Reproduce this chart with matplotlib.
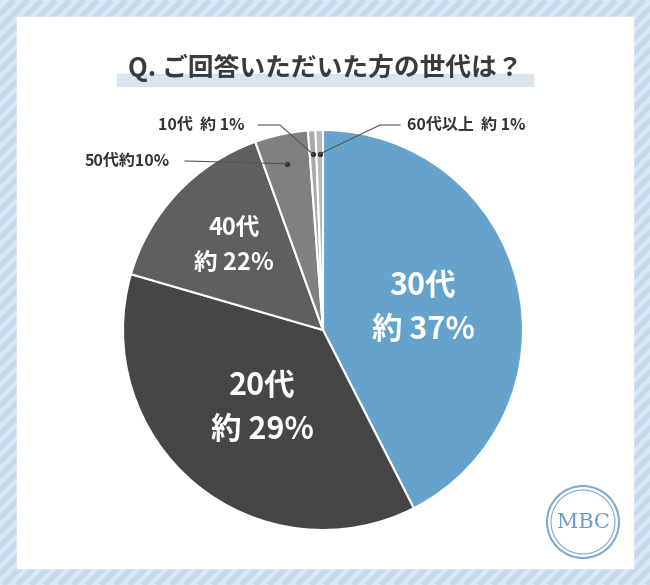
import matplotlib
matplotlib.use("Agg")
import matplotlib.pyplot as plt
from matplotlib.patches import Rectangle, Circle
import numpy as np

plt.rcParams['font.family'] = ['Noto Sans CJK JP', 'DejaVu Sans']

categories = ["30代", "20代", "40代", "50代", "10代", "60代以上"]
values = [42.5, 37.0, 15.0, 4.3, 0.6, 0.6]
labels = ["約 37%", "約 29%", "約 22%", "約10%", "約 1%", "約 1%"]
colors = ["#66a3cc", "#464646", "#5f5f5f", "#808080", "#a9a9a9", "#b8b8b8"]

W, H = 650, 585
fig = plt.figure(figsize=(6.5, 5.85), dpi=100)
bg = fig.add_axes([0, 0, 1, 1])
bg.set_xlim(0, W); bg.set_ylim(H, 0); bg.axis('off')
bg.add_patch(Rectangle((0, 0), W, H, color="#dbe8f3"))
for k in range(-H, W + H, 14):
    bg.plot([k, k + H], [H, 0], color="#c4d9ec", lw=4, solid_capstyle='butt')
bg.add_patch(Rectangle((17, 17), W - 34, H - 34, color="white", zorder=2))
bg.add_patch(Rectangle((117, 74), 416, 12, color="#d5e6f2", zorder=3))
bg.text(325, 68, "Q. ご回答いただいた方の世代は？", ha='center', va='center',
        fontsize=18.5, fontweight='bold', color="#3a3a3a", zorder=4)
bg.add_patch(Circle((583, 522), 36, fill=False, ec="#7fa9cf", lw=1.5, zorder=4))
bg.add_patch(Circle((583, 522), 32, fill=False, ec="#7fa9cf", lw=0.8, zorder=4))
bg.text(583, 523, "MBC", ha='center', va='center', fontsize=15, color="#6a9cc8",
        family='DejaVu Serif', zorder=5)

cx, cy, R = 323, 330, 200
ax = fig.add_axes([(cx - R) / W, (H - cy - R) / H, 2 * R / W, 2 * R / H])
ax.pie(values, colors=colors, startangle=90, counterclock=False,
       wedgeprops=dict(ec="white", lw=1.5))
ax.set_xlim(-1, 1); ax.set_ylim(-1, 1); ax.set_aspect('auto'); ax.axis('off')

ov = fig.add_axes([0, 0, 1, 1])
ov.set_xlim(0, W); ov.set_ylim(H, 0); ov.axis('off'); ov.patch.set_alpha(0)

def px(x, y):
    return cx + x * R, cy - y * R

inner = {0: (423, 308, 22, 22), 1: (262, 408, 22, 22), 2: (234, 246, 17, 17)}
for i, (x, y, d, fs) in inner.items():
    ov.text(x, y - d, categories[i], ha='center', va='center',
            fontsize=fs, fontweight='bold', color="white")
    ov.text(x, y + d, labels[i], ha='center', va='center',
            fontsize=fs, fontweight='bold', color="white")

cum = np.cumsum([0] + values)
tot = sum(values)
def mid(i):
    return np.deg2rad(90 - 360 * (cum[i] + cum[i + 1]) / 2 / tot)

outer = [(3, 0.85, "50代約10%", [(185, 161)], (85, 161)),
         (4, 0.88, "10代  約 1%", [(280, 125), (258, 125)], (158, 125)),
         (5, 0.88, "60代以上  約 1%", [(380, 125), (400, 125)], (407, 125))]
for i, r, txt, pts, tpos in outer:
    a = mid(i)
    x0, y0 = px(r * np.cos(a), r * np.sin(a))
    ov.plot([x0], [y0], 'o', ms=2.8, color="#333333")
    xs = [x0] + [p[0] for p in pts]
    ys = [y0] + [p[1] for p in pts]
    ov.plot(xs, ys, color="#555555", lw=0.8)
    ov.text(tpos[0], tpos[1], txt, ha='left', va='center', fontsize=11.5,
            fontweight='bold', color="#333333")

fig.savefig("out.png", dpi=100)
